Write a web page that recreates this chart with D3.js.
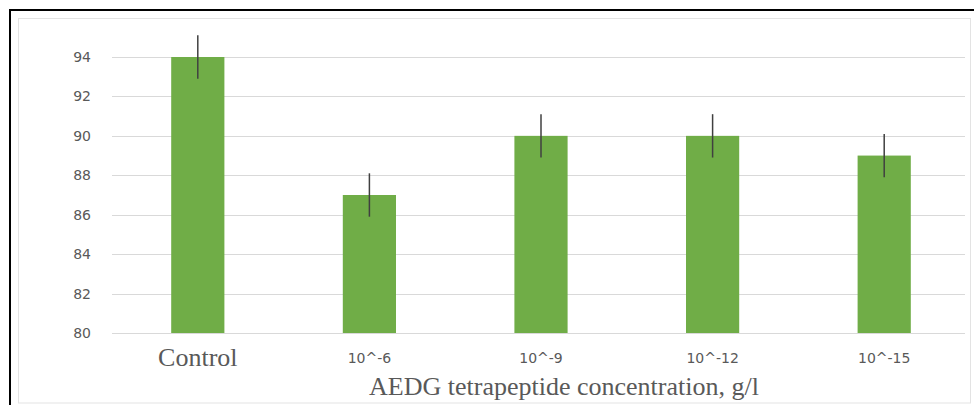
<!DOCTYPE html>
<html lang="en">
<head>
    <meta charset="UTF-8">
    <title>AEDG tetrapeptide</title>
    <script src="https://d3js.org/d3.v7.min.js"></script>
    <style>
        body {margin: 0; background: white;}
        .tick-label {font-family: "DejaVu Sans", sans-serif; font-size: 14px; fill: #595959;}
        .serif {font-family: "Liberation Serif", "Times New Roman", serif; fill: #595959;}
    </style>
</head>
<body>
<script>
    const width = 974;
    const height = 405;

    const categories = ["Control", "10^-6", "10^-9", "10^-12", "10^-15"];
    const values = [94, 87, 90, 90, 89];
    const errors = [1.1, 1.1, 1.1, 1.1, 1.1];
    const yTicks = [80, 82, 84, 86, 88, 90, 92, 94];
    const xTitle = "AEDG tetrapeptide concentration, g/l";

    const svg = d3.select("body").append("svg")
            .attr("width", width).attr("height", height);

    // outer frame (black) and chart area border (light gray)
    svg.append("rect")
            .attr("x", 10).attr("y", 10)
            .attr("width", 1000).attr("height", 1000)
            .style("fill", "none").style("stroke", "black").style("stroke-width", 2);

    svg.append("rect")
            .attr("x", 18.5).attr("y", 18.5)
            .attr("width", 952).attr("height", 384.5)
            .style("fill", "none").style("stroke", "#e3e3e3").style("stroke-width", 1);

    const x = d3.scaleBand()
            .domain(categories)
            .range([112, 970])
            .paddingInner(0.69)
            .paddingOuter(0.345);

    const y = d3.scaleLinear()
            .domain([80, 94])
            .range([333, 57]);

    // gridlines
    svg.selectAll("line.grid")
            .data(yTicks)
            .enter().append("line")
            .attr("class", "grid")
            .attr("x1", 112).attr("x2", 965)
            .attr("y1", d => Math.round(y(d)) + 0.5)
            .attr("y2", d => Math.round(y(d)) + 0.5)
            .style("stroke", "#d9d9d9").style("stroke-width", 1);

    svg.selectAll("text.ytick")
            .data(yTicks)
            .enter().append("text")
            .attr("class", "tick-label ytick")
            .attr("x", 91)
            .attr("y", d => y(d))
            .attr("dy", "0.36em")
            .attr("text-anchor", "end")
            .text(d => d);

    const data = categories.map((c, i) => ({name: c, value: values[i], err: errors[i]}));

    svg.selectAll("rect.bar")
            .data(data)
            .enter().append("rect")
            .attr("class", "bar")
            .attr("x", d => x(d.name))
            .attr("width", x.bandwidth())
            .attr("y", d => y(d.value))
            .attr("height", d => y(80) - y(d.value))
            .style("fill", "#70ad47");

    svg.selectAll("line.err")
            .data(data)
            .enter().append("line")
            .attr("class", "err")
            .attr("x1", d => x(d.name) + x.bandwidth() / 2)
            .attr("x2", d => x(d.name) + x.bandwidth() / 2)
            .attr("y1", d => y(d.value + d.err))
            .attr("y2", d => y(d.value - d.err))
            .style("stroke", "#404040").style("stroke-width", 1.5);

    // category labels: the first one is in a serif face, the rest as Excel drew them
    svg.selectAll("text.xtick")
            .data(categories)
            .enter().append("text")
            .attr("class", (d, i) => i === 0 ? "serif xtick" : "tick-label xtick")
            .attr("x", d => x(d) + x.bandwidth() / 2)
            .attr("y", (d, i) => i === 0 ? 366 : 363)
            .attr("text-anchor", "middle")
            .style("font-size", (d, i) => i === 0 ? "26px" : null)
            .text(d => d);

    svg.append("text")
            .attr("class", "serif")
            .attr("x", 564)
            .attr("y", 395)
            .attr("text-anchor", "middle")
            .style("font-size", "26px")
            .text(xTitle);
</script>
</body>
</html>
